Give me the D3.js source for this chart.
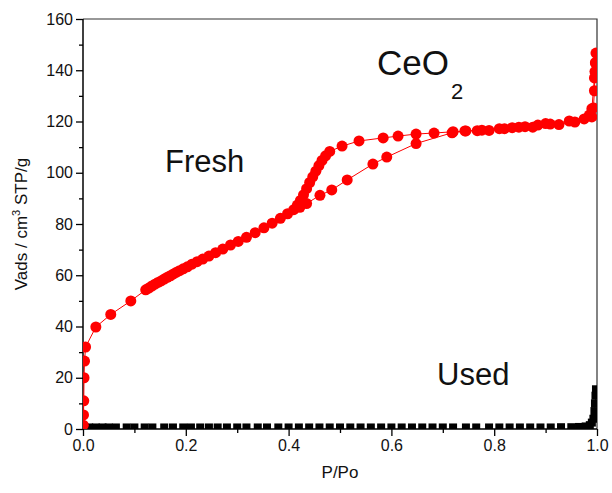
<!DOCTYPE html>
<html>
<head>
<meta charset="utf-8">
<script src="https://cdn.jsdelivr.net/npm/d3@7"></script>
<style>
body { margin: 0; background: #fff; }
text { font-family: Arial, "Liberation Sans", sans-serif; }
</style>
</head>
<body>
<script>
// Fresh CeO2 isotherm: adsorption branch then desorption branch
var freshAdsX = [0.0005, 0.001, 0.0015, 0.002, 0.003, 0.005, 0.025, 0.054, 0.093,
    0.122, 0.128, 0.134, 0.140, 0.146, 0.152, 0.158, 0.164, 0.170, 0.176, 0.182, 0.188, 0.195,
    0.203, 0.212, 0.222, 0.233, 0.245, 0.258, 0.272, 0.287, 0.302, 0.318, 0.335, 0.352, 0.368,
    0.384, 0.398, 0.410, 0.422, 0.435, 0.461, 0.484, 0.514, 0.564, 0.591, 0.648, 0.718, 0.745,
    0.776, 0.81, 0.835, 0.86, 0.885, 0.909, 0.946, 0.975, 0.99, 0.993, 0.995, 0.996, 0.997, 0.998];
var freshAdsY = [1.5, 5.5, 11, 20, 26.5, 32, 39.8, 44.7, 50,
    54.3, 55, 55.8, 56.5, 57.2, 57.8, 58.5, 59.2, 59.8, 60.5, 61.2, 61.8, 62.5,
    63.3, 64.3, 65.3, 66.3, 67.5, 68.8, 70.2, 71.8, 73.2, 74.8, 76.6, 78.5, 80.3,
    82.2, 84, 85.6, 86.5, 88, 91.2, 93.3, 97.2, 103.4, 106.1, 111.4, 115.6, 116.3,
    116.6, 117.2, 117.6, 118, 118.6, 119, 120.2, 121, 121.8, 125.3, 132, 139.5, 143, 146.7];
var freshDesX = [0.997, 0.995, 0.99, 0.985, 0.957, 0.926, 0.9, 0.875, 0.848, 0.82, 0.79, 0.767,
    0.743, 0.72, 0.683, 0.648, 0.613, 0.584, 0.537, 0.504, 0.48, 0.472, 0.465, 0.459, 0.453,
    0.447, 0.441, 0.435, 0.429, 0.423, 0.417];
var freshDesY = [142.8, 137, 125, 122.5, 119.8, 118.8, 119.2, 117.8, 117.8, 117.2, 116.5, 116.4,
    116.3, 116, 115.5, 115.1, 114.3, 113.6, 112.4, 110.4, 108.3, 106.6, 104.8, 102.8, 100.6,
    98.4, 96.2, 93.8, 91.4, 89.2, 87.4];

// Used sample
var usedX = [0.003, 0.012, 0.025, 0.038, 0.05, 0.064, 0.085, 0.1, 0.12, 0.135, 0.158, 0.175,
    0.195, 0.21, 0.228, 0.245, 0.262, 0.28, 0.3, 0.318, 0.34, 0.358, 0.38, 0.4, 0.42, 0.44,
    0.46, 0.48, 0.5, 0.52, 0.54, 0.56, 0.58, 0.6, 0.62, 0.64, 0.66, 0.68, 0.7, 0.72, 0.745,
    0.765, 0.79, 0.81, 0.83, 0.85, 0.87, 0.89, 0.91, 0.93, 0.95, 0.965, 0.978, 0.986, 0.99,
    0.993, 0.995, 0.996, 0.997, 0.998];
var usedY = [0.6, 0.6, 0.6, 0.6, 0.6, 0.6, 0.6, 0.6, 0.6, 0.6, 0.6, 0.6,
    0.6, 0.6, 0.6, 0.6, 0.6, 0.6, 0.6, 0.6, 0.6, 0.6, 0.6, 0.6, 0.6, 0.6,
    0.6, 0.6, 0.6, 0.6, 0.6, 0.6, 0.6, 0.6, 0.6, 0.6, 0.6, 0.6, 0.6, 0.6, 0.6,
    0.6, 0.6, 0.6, 0.6, 0.6, 0.6, 0.6, 0.6, 0.7, 0.7, 0.8, 1.0, 1.5, 2.5,
    4, 7, 10, 13, 15.5];

var xTicks = [0, 0.2, 0.4, 0.6, 0.8, 1.0];
var xMinor = [0.1, 0.3, 0.5, 0.7, 0.9];
var yTicks = [0, 20, 40, 60, 80, 100, 120, 140, 160];
var yMinor = [10, 30, 50, 70, 90, 110, 130, 150];

var margin = {top: 19, right: 15, bottom: 64, left: 83},
    width = 612 - margin.left - margin.right,
    height = 493 - margin.top - margin.bottom;

var svg = d3.select("body").append("svg")
    .attr("width", 612)
    .attr("height", 493)
    .append("g")
    .attr("transform", "translate(" + margin.left + "," + margin.top + ")");

var xScale = d3.scaleLinear().domain([0, 1]).range([0, width]);
var yScale = d3.scaleLinear().domain([0, 160]).range([height, 0]);

svg.append("clipPath").attr("id", "clip")
    .append("rect").attr("x", 0).attr("y", 0).attr("width", width).attr("height", height);

// frame (top and right)
svg.append("path")
    .attr("d", "M0,0H" + width + "V" + height)
    .attr("fill", "none").attr("stroke", "#333").attr("stroke-width", 1.2);

// axes
var gx = svg.append("g").attr("transform", "translate(0," + height + ")")
    .call(d3.axisBottom(xScale).tickValues(xTicks).tickFormat(d3.format(".1f")).tickSize(7).tickPadding(4));
svg.append("g").attr("transform", "translate(0," + height + ")")
    .call(d3.axisBottom(xScale).tickValues(xMinor).tickFormat("").tickSize(4))
    .select(".domain").remove();
var gy = svg.append("g")
    .call(d3.axisLeft(yScale).tickValues(yTicks).tickSize(7).tickPadding(3));
svg.append("g")
    .call(d3.axisLeft(yScale).tickValues(yMinor).tickFormat("").tickSize(4))
    .select(".domain").remove();

svg.selectAll(".domain").attr("stroke-width", 1.5).attr("stroke", "#000");
svg.selectAll(".tick line").attr("stroke-width", 1.3);
svg.selectAll(".tick text").attr("font-size", "16px").attr("fill", "#111")
    .style("font-family", "Arial, 'Liberation Sans', sans-serif");
gx.selectAll(".domain").attr("d", "M0,0H" + width);
gy.selectAll(".domain").attr("d", "M0," + height + "V0");

var plot = svg.append("g").attr("clip-path", "url(#clip)");

var fresh = freshAdsX.map(function(d, i) { return [d, freshAdsY[i]]; })
    .concat(freshDesX.map(function(d, i) { return [d, freshDesY[i]]; }));
var used = usedX.map(function(d, i) { return [d, usedY[i]]; });

var line = d3.line()
    .x(function(d) { return xScale(d[0]); })
    .y(function(d) { return yScale(d[1]); });

plot.append("path").datum(used)
    .attr("d", line).attr("fill", "none")
    .attr("stroke", "#000").attr("stroke-width", 1).attr("stroke-dasharray", "4,3")
    .attr("transform", "translate(0,2)");

plot.selectAll(".used").data(used).enter().append("rect")
    .attr("x", function(d) { return xScale(d[0]) - 4; })
    .attr("y", function(d) { return yScale(d[1]) - 4; })
    .attr("width", 8).attr("height", 8)
    .attr("fill", "#000");

plot.append("path").datum(fresh)
    .attr("d", line).attr("fill", "none")
    .attr("stroke", "#ff0000").attr("stroke-width", 1);

plot.selectAll(".fresh").data(fresh).enter().append("circle")
    .attr("cx", function(d) { return xScale(d[0]); })
    .attr("cy", function(d) { return yScale(d[1]); })
    .attr("r", 5.5)
    .attr("fill", "#ff0000");

// labels
svg.append("text")
    .attr("x", width / 2).attr("y", height + 49)
    .attr("text-anchor", "middle").attr("font-size", "17px").attr("fill", "#111")
    .text("P/Po");

var yl = svg.append("text")
    .attr("transform", "translate(-56," + (height / 2) + ") rotate(-90)")
    .attr("text-anchor", "middle").attr("font-size", "17px").attr("fill", "#111");
yl.append("tspan").text("Vads / cm");
yl.append("tspan").attr("font-size", "11px").attr("dy", "-7").text("3");
yl.append("tspan").attr("dy", "7").text(" STP/g");

svg.append("text")
    .attr("x", 82).attr("y", 153)
    .attr("font-size", "31px").attr("fill", "#111")
    .text("Fresh");

svg.append("text")
    .attr("x", 354).attr("y", 366)
    .attr("font-size", "31px").attr("fill", "#111")
    .text("Used");

var ce = svg.append("text")
    .attr("x", 294).attr("y", 56)
    .attr("font-size", "35px").attr("fill", "#111");
ce.append("tspan").text("CeO");
ce.append("tspan").attr("font-size", "22px").attr("dy", "24").attr("dx", "2").text("2");
</script>
</body>
</html>
